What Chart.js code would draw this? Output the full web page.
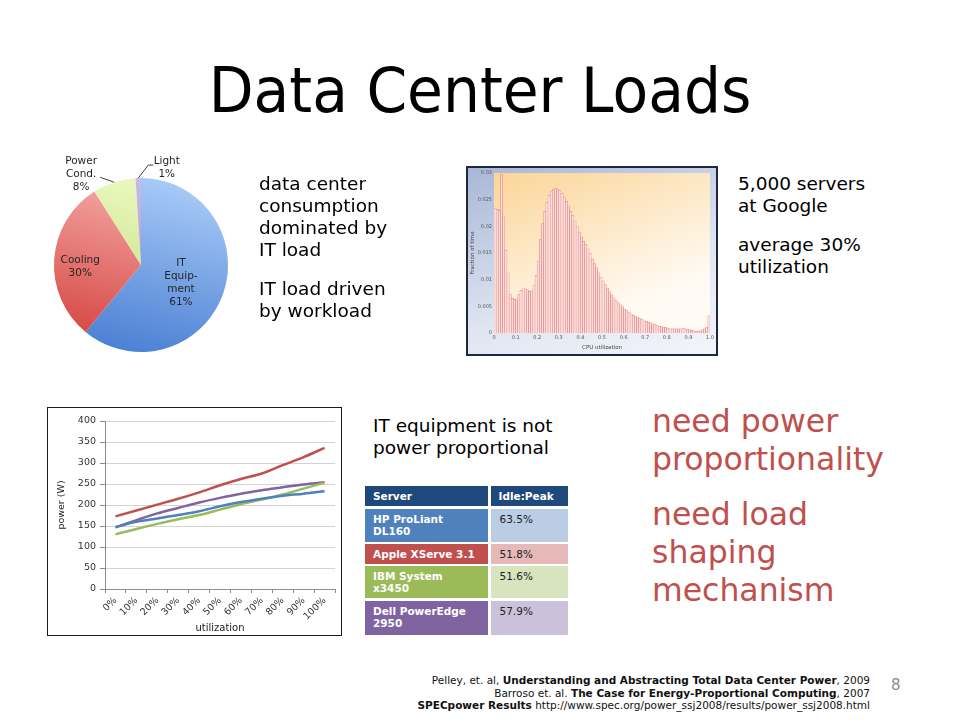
<!DOCTYPE html>
<html><head><meta charset="utf-8">
<script src="https://cdn.jsdelivr.net/npm/chart.js@4.4.1/dist/chart.umd.min.js"></script>
<style>
html,body{margin:0;padding:0;background:#fff;}
body{width:960px;height:720px;position:relative;overflow:hidden;font-family:"DejaVu Sans",Verdana,sans-serif;color:#000;}
.abs{position:absolute;}
#title{left:0;width:960px;top:60px;text-align:center;font-size:62px;line-height:62px;transform:scaleX(0.94);white-space:nowrap;}
.txt{font-size:18.5px;line-height:22px;white-space:nowrap;}
.txt p{margin:0;}
.txt p+p{margin-top:17px;}
.red{color:#c0504d;font-size:31.5px;line-height:38px;white-space:nowrap;}
.red p{margin:0;}
.red p+p{margin-top:17px;}
#pieWrap{left:30px;top:145px;width:230px;height:240px;}
#histFrame{left:466px;top:166px;width:252px;height:190px;box-sizing:border-box;border:2px solid #1e2640;background:linear-gradient(160deg,#a9b7d7 0%,#dfe5f1 60%,#f3f5fa 100%);}
#histWrap{position:absolute;left:0;top:0;width:248px;height:186px;}
#lineFrame{left:47px;top:407px;width:295px;height:229px;box-sizing:border-box;border:1px solid #1a1a1a;background:#fff;}
#lineWrap{position:absolute;left:0;top:0;width:293px;height:227px;}
.cell{position:absolute;box-sizing:border-box;font-size:10.5px;line-height:12px;white-space:pre-line;}
.lab{color:#fff;font-weight:bold;padding-left:8px;}
.val{color:#222;padding-left:9px;}
#foot{right:90px;top:674px;text-align:right;font-size:10.5px;line-height:12.5px;color:#111;white-space:nowrap;}
#pg{left:891px;top:676px;font-size:15px;color:#8c8c8c;}
</style></head>
<body>
<div id="title" class="abs">Data Center Loads</div>

<div id="pieWrap" class="abs"><canvas id="pie"></canvas></div>

<div class="abs txt" style="left:259px;top:173px;">
<p>data center<br>consumption<br>dominated by<br>IT load</p>
<p>IT load driven<br>by workload</p>
</div>

<div id="histFrame" class="abs"><div id="histWrap"><canvas id="hist"></canvas></div></div>

<div class="abs txt" style="left:738px;top:173px;">
<p>5,000 servers<br>at Google</p>
<p>average 30%<br>utilization</p>
</div>

<div id="lineFrame" class="abs"><div id="lineWrap"><canvas id="line"></canvas></div></div>

<div class="abs txt" style="left:373px;top:415px;">
<p>IT equipment is not<br>power proportional</p>
</div>

<div id="table"></div>

<div class="abs red" style="left:652px;top:402px;">
<p>need power<br>proportionality</p>
<p>need load<br>shaping<br>mechanism</p>
</div>

<div id="foot" class="abs">
<div>Pelley, et. al, <b>Understanding and Abstracting Total Data Center Power</b>, 2009</div>
<div>Barroso et. al. <b>The Case for Energy-Proportional Computing</b>, 2007</div>
<div><b>SPECpower Results</b> http://www.spec.org/power_ssj2008/results/power_ssj2008.html</div>
</div>
<div id="pg" class="abs">8</div>

<script>
// ---------- DATA ----------
// Pie: data center power breakdown
const pieCategories = ['IT Equip-ment', 'Cooling', 'Power Cond.', 'Light'];
const pieLabelLines = [['IT', 'Equip-', 'ment'], ['Cooling'], ['Power', 'Cond.'], ['Light']];
const pieValues = [61, 30, 8, 1];

// Histogram: fraction of time vs CPU utilization (bins of 0.01)
const histValues = [
0.0233,0.0232,0.0230,0.0298,0.0218,0.0155,0.0113,0.0073,0.0065,0.0063,
0.0064,0.0072,0.0080,0.0083,0.0083,0.0081,0.0078,0.0079,0.0090,0.0108,
0.0135,0.0175,0.0205,0.0228,0.0245,0.0258,0.0266,0.0270,0.0271,0.0269,
0.0267,0.0262,0.0255,0.0247,0.0238,0.0228,0.0220,0.0210,0.0199,0.0189,
0.0180,0.0172,0.0166,0.0158,0.0150,0.0138,0.0130,0.0122,0.0113,0.0105,
0.0098,0.0091,0.0084,0.0077,0.0071,0.0066,0.0061,0.0057,0.0053,0.0049,
0.0045,0.0042,0.0039,0.0036,0.0033,0.0031,0.0029,0.0027,0.0025,0.0023,
0.0022,0.0020,0.0019,0.0017,0.0016,0.0014,0.0013,0.0012,0.0011,0.0010,
0.0009,0.0008,0.0008,0.0008,0.0008,0.0008,0.0008,0.0009,0.0008,0.0007,
0.0006,0.0005,0.0004,0.0003,0.0003,0.0004,0.0006,0.0008,0.0011,0.0032];
const histBinWidth = 0.01;

// Line chart: power (W) vs utilization
const utilLabels = ['0%','10%','20%','30%','40%','50%','60%','70%','80%','90%','100%'];
const hpPower     = [147,160,168,176,185,197,207,215,222,227,233];
const applePower  = [173,187,201,215,230,247,262,275,295,314,336];
const ibmPower    = [130,143,155,166,176,189,202,213,225,239,253];
const dellPower   = [147,164,180,193,206,217,227,235,242,249,254];

// Table
const tableHeader = ['Server', 'Idle:Peak'];
const tableServers = ['HP ProLiant\nDL160', 'Apple XServe 3.1', 'IBM System\nx3450', 'Dell PowerEdge\n2950'];
const tableIdlePeak = ['63.5%', '51.8%', '51.6%', '57.9%'];

// ---------- STYLE ----------
Chart.defaults.font.family = '"DejaVu Sans", Verdana, sans-serif';
Chart.defaults.animation = false;

const pieGrad = [['#a8caf7','#4a7fd3'], ['#f6b0ad','#d5433f'], ['#ecf9c2','#bddb72'], ['#cbbbe8','#9a80c8']];
const pieLabelPlace = [
  {inside:true, r:0.5, off:[-1,3]},
  {inside:true, r:0.70, off:[0,6]},
  {inside:false, bend:[-14,-5], stub:0, text:[-19,-3]},
  {inside:false, bend:[10,-13], stub:5, text:[18.5,2.5]}
];

function sliceGradient(ctx, i){
  const chart = ctx.chart, a = chart.chartArea;
  if (!a) return pieGrad[i][1];
  const g = chart.ctx.createLinearGradient(a.left + a.width*0.6, a.top, a.left + a.width*0.35, a.bottom);
  g.addColorStop(0, pieGrad[i][0]);
  g.addColorStop(1, pieGrad[i][1]);
  return g;
}

const pieLabelPlugin = {
  id: 'pieLabels',
  afterDatasetsDraw(chart){
    const ctx = chart.ctx, meta = chart.getDatasetMeta(0);
    ctx.save();
    ctx.font = '10.5px "DejaVu Sans"';
    ctx.fillStyle = '#262626';
    ctx.strokeStyle = '#404040';
    ctx.lineWidth = 1;
    ctx.textAlign = 'center';
    ctx.textBaseline = 'middle';
    const lh = 13;
    meta.data.forEach((arc, i) => {
      const p = arc.getProps(['x','y','startAngle','endAngle','outerRadius'], true);
      const mid = (p.startAngle + p.endAngle)/2, c = Math.cos(mid), s = Math.sin(mid);
      const lines = pieLabelLines[i].concat([chart.data.datasets[0].data[i] + '%']);
      const st = pieLabelPlace[i];
      let cx, cy;
      if (st.inside){
        cx = p.x + c*p.outerRadius*st.r + st.off[0];
        cy = p.y + s*p.outerRadius*st.r + st.off[1];
      } else {
        const ex = p.x + c*p.outerRadius, ey = p.y + s*p.outerRadius;
        const bx = ex + st.bend[0], by = ey + st.bend[1];
        ctx.beginPath(); ctx.moveTo(ex, ey); ctx.lineTo(bx, by); ctx.lineTo(bx + st.stub, by); ctx.stroke();
        cx = bx + st.text[0]; cy = by + st.text[1];
      }
      const y0 = cy - (lines.length-1)*lh/2;
      lines.forEach((t,k) => ctx.fillText(t, cx, y0 + k*lh));
    });
    ctx.restore();
  }
};

new Chart(document.getElementById('pie'), {
  type: 'pie',
  data: { labels: pieCategories, datasets: [{ data: pieValues,
    backgroundColor: ctx => sliceGradient(ctx, ctx.dataIndex), borderWidth: 0 }] },
  options: { responsive: true, maintainAspectRatio: false,
    layout: { padding: { left: 24, right: 32, top: 33, bottom: 33 } },
    plugins: { legend: { display: false }, tooltip: { enabled: false } } },
  plugins: [pieLabelPlugin]
});

// plot area background plugin
const plotBg = {
  id: 'plotBg',
  beforeDraw(chart, args, opts){
    if (!opts || !opts.colors) return;
    const a = chart.chartArea, c = chart.ctx;
    const g = c.createLinearGradient(a.left, a.top, a.left + a.width*0.3, a.bottom);
    g.addColorStop(0, opts.colors[0]); g.addColorStop(1, opts.colors[1]);
    c.save(); c.fillStyle = g; c.fillRect(a.left, a.top, a.width, a.height); c.restore();
  }
};

// Histogram
new Chart(document.getElementById('hist'), {
  type: 'bar',
  data: { datasets: [{
    data: histValues.map((v, i) => ({ x: (i + 0.5) * histBinWidth, y: v })),
    backgroundColor: '#fcdfdc', borderColor: '#e07272', borderWidth: 0.5,
    barPercentage: 1, categoryPercentage: 1 }] },
  options: { responsive: true, maintainAspectRatio: false,
    layout: { padding: { left: 0, top: 4, right: 4, bottom: 0 } },
    plugins: { legend: { display: false }, tooltip: { enabled: false },
      plotBg: { colors: ['#fbd597', '#fffaf3'] } },
    scales: {
      x: { type: 'linear', min: 0, max: 1, offset: false,
        ticks: { stepSize: 0.1, font: { size: 5 }, color: '#555', padding: 2, maxRotation: 0,
          callback: v => v === 0 ? '0' : (Math.abs(v-1) < 1e-9 ? '1.0' : String(+v.toFixed(1))) },
        grid: { display: false, drawTicks: false, offset: false }, border: { display: false },
        title: { display: true, text: 'CPU utilization', font: { size: 5.5 }, color: '#444', padding: { top: 1, bottom: 3 } },
        afterFit: s => { s.height = 21; } },
      y: { min: 0, max: 0.03,
        ticks: { stepSize: 0.005, font: { size: 5 }, color: '#555', padding: 2,
          callback: v => v === 0 ? '0' : String(+v.toFixed(3)) },
        grid: { display: false, drawTicks: false }, border: { display: false },
        title: { display: true, text: 'Fraction of time', font: { size: 5.5 }, color: '#444', padding: 1 },
        afterFit: s => { s.width = 26; } }
    } },
  plugins: [plotBg]
});

// Line chart
const lineSeries = [
  { data: hpPower, color: '#4f81bd' },
  { data: ibmPower, color: '#9bbb59' },
  { data: dellPower, color: '#8064a2' },
  { data: applePower, color: '#c0504d' }
];
new Chart(document.getElementById('line'), {
  type: 'line',
  data: { labels: utilLabels, datasets: lineSeries.map(s => ({
    data: s.data, borderColor: s.color, borderWidth: 2.5, pointRadius: 0,
    cubicInterpolationMode: 'monotone', fill: false })) },
  options: { responsive: true, maintainAspectRatio: false,
    layout: { padding: { left: 0, top: 13, right: 6, bottom: 0 } },
    plugins: { legend: { display: false }, tooltip: { enabled: false } },
    scales: {
      x: { offset: true,
        grid: { display: true, drawOnChartArea: false, offset: true, tickLength: 4, color: '#8c8c8c' },
        border: { color: '#8c8c8c' },
        ticks: { font: { size: 9.5 }, color: '#333', minRotation: 45, maxRotation: 45, padding: 2, autoSkip: false },
        title: { display: true, text: 'utilization', font: { size: 10 }, color: '#222', padding: { top: 0, bottom: 1 } },
        afterFit: s => { s.height = 46; } },
      y: { min: 0, max: 400,
        grid: { color: '#d4d4d4', tickLength: 5, tickColor: '#8c8c8c' },
        border: { color: '#8c8c8c' },
        ticks: { stepSize: 50, font: { size: 9.5 }, color: '#333', padding: 4 },
        title: { display: true, text: 'power (W)', font: { size: 9.5 }, color: '#222', padding: { top: 8, bottom: 2 } },
        afterFit: s => { s.width = 57; } }
    } }
});

// Table
const tableEl = document.getElementById('table');
const colX = [365, 490.5], colW = [123, 77];
const rowTop = [509, 543.5, 565.5, 600.5], rowH = [32.5, 20, 32.5, 34.5];
const rowColors = [['#4f81bd','#b9cde5'], ['#c0504d','#e6b9b8'], ['#9bbb59','#d7e4bd'], ['#8064a2','#ccc1da']];
function addCell(text, x, y, w, h, bg, cls, padTop){
  const d = document.createElement('div');
  d.className = 'cell ' + cls;
  d.style.left = x + 'px'; d.style.top = y + 'px'; d.style.width = w + 'px'; d.style.height = h + 'px';
  d.style.background = bg; d.style.paddingTop = padTop + 'px';
  d.textContent = text;
  tableEl.appendChild(d);
}
addCell(tableHeader[0], colX[0], 486, colW[0], 19.5, '#1f497d', 'lab', 4);
addCell(tableHeader[1], colX[1], 486, colW[1], 19.5, '#1f497d', 'lab', 4);
tableServers.forEach((name, i) => {
  addCell(name, colX[0], rowTop[i], colW[0], rowH[i], rowColors[i][0], 'lab', 4);
  addCell(tableIdlePeak[i], colX[1], rowTop[i], colW[1], rowH[i], rowColors[i][1], 'val', 4);
});
</script>
</body></html>
